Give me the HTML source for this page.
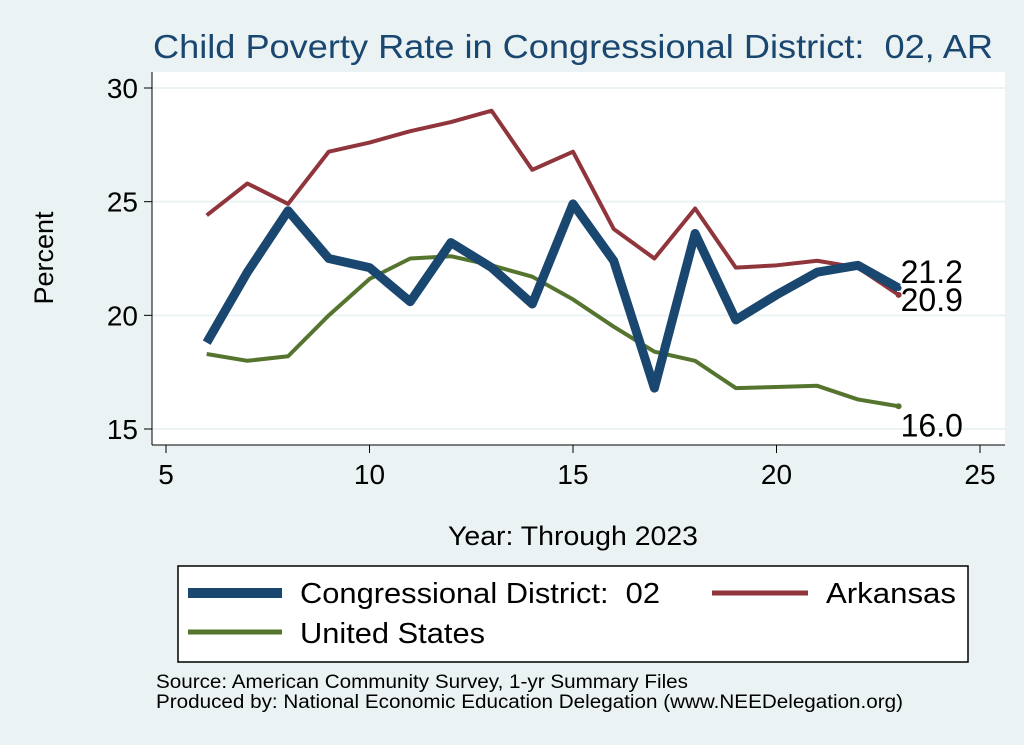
<!DOCTYPE html>
<html><head><meta charset="utf-8"><style>
body{margin:0;background:#eaf2f3;}
svg{display:block;font-family:"Liberation Sans",Arial,sans-serif;}
text{white-space:pre;}
</style></head><body>
<svg id="chart" width="1024" height="745" viewBox="0 0 1024 745" xml:space="preserve">
<rect x="0" y="0" width="1024" height="745" fill="#eaf2f3"/>
<text x="153" y="58" font-size="33" fill="#1a476f" textLength="840" lengthAdjust="spacingAndGlyphs">Child Poverty Rate in Congressional District:  02, AR</text>
<rect x="152" y="72" width="853" height="373" fill="#fff"/>
<g id="grid"></g>
<g id="axes"></g>
<g id="series"></g>
<text x="53" y="258" font-size="27" text-anchor="middle" transform="rotate(-90 53 258)">Percent</text>
<text x="448" y="545" font-size="27" textLength="250" lengthAdjust="spacingAndGlyphs">Year: Through 2023</text>
<g>
<rect x="178" y="566" width="790" height="96" fill="#fff" stroke="#000" stroke-width="1.5"/>
<line x1="188" y1="593" x2="282" y2="593" stroke="#1a476f" stroke-width="10"/>
<text x="300" y="603" font-size="29" textLength="360" lengthAdjust="spacingAndGlyphs">Congressional District:  02</text>
<line x1="712" y1="593" x2="808" y2="593" stroke="#90353b" stroke-width="5"/>
<text x="826" y="603" font-size="29" textLength="130" lengthAdjust="spacingAndGlyphs">Arkansas</text>
<line x1="188" y1="632" x2="282" y2="632" stroke="#55752f" stroke-width="5"/>
<text x="300" y="643" font-size="29" textLength="185" lengthAdjust="spacingAndGlyphs">United States</text>
</g>
<text x="156" y="688" font-size="19" textLength="532" lengthAdjust="spacingAndGlyphs">Source: American Community Survey, 1-yr Summary Files</text>
<text x="156" y="708" font-size="19" textLength="747" lengthAdjust="spacingAndGlyphs">Produced by: National Economic Education Delegation (www.NEEDelegation.org)</text>
</svg>
<script>
const years=[6,7,8,9,10,11,12,13,14,15,16,17,18,19,20,21,22,23];
const district=[18.8,21.9,24.6,22.5,22.1,20.6,23.2,22.1,20.5,24.9,22.4,16.8,23.6,19.8,20.9,21.9,22.2,21.2];
const arkansas=[24.4,25.8,24.9,27.2,27.6,28.1,28.5,29.0,26.4,27.2,23.8,22.5,24.7,22.1,22.2,22.4,22.1,20.9];
const us=[18.3,18.0,18.2,20.0,21.6,22.5,22.6,22.2,21.7,20.7,19.5,18.4,18.0,16.8,16.85,16.9,16.3,16.0];
const xTicks=[5,10,15,20,25];
const yTicks=[15,20,25,30];
const NS='http://www.w3.org/2000/svg';
function X(v){return 166+(v-5)*(980-166)/20;}
function Y(v){return 429-(v-15)*(429-88)/15;}
function mk(tag,attrs,parent){const e=document.createElementNS(NS,tag);for(const k in attrs)e.setAttribute(k,attrs[k]);document.getElementById(parent).appendChild(e);return e;}
yTicks.forEach(t=>{
 const g=mk('line',{x1:152,x2:1005,y1:Y(t),y2:Y(t),stroke:'#eaf2f3','stroke-width':2},'grid');
 
 
 const tk=mk('line',{x1:144,x2:152,y1:Y(t),y2:Y(t),stroke:'#000','stroke-width':1},'axes');
 
 
 const tx=mk('text',{x:138,y:Y(t)+10,'font-size':28,'text-anchor':'end'},'axes');tx.textContent=t;
 
 
});
xTicks.forEach(t=>{
 const tk=mk('line',{x1:X(t),x2:X(t),y1:445,y2:453,stroke:'#000','stroke-width':1},'axes');
 
 
 const tx=mk('text',{x:X(t),y:484,'font-size':28,'text-anchor':'middle'},'axes');tx.textContent=t;
 
 
});
const ax1=mk('line',{x1:152,x2:152,y1:72,y2:445,stroke:'#000','stroke-width':1},'axes');


const ax2=mk('line',{x1:152,x2:1005,y1:445,y2:445,stroke:'#000','stroke-width':1},'axes');


function line(vals,color,w,name,lblDy){
 const d=vals.map((v,i)=>(i?'L':'M')+X(years[i])+','+Y(v)).join(' ');
 const p=mk('path',{d:d,fill:'none',stroke:color,'stroke-width':w,'stroke-linejoin':'round'},'series');
 
 
 const last=vals[vals.length-1];
 const c=mk('circle',{cx:X(years[years.length-1]),cy:Y(last),r:3,fill:color},'series');
 
 
 const t=mk('text',{x:X(years[years.length-1])+2,y:Y(last)+lblDy,'font-size':32},'series');
 t.textContent=last.toFixed(1);
 
 
}
line(us,'#55752f',4,'us',30);
line(arkansas,'#90353b',4,'arkansas',16);
line(district,'#1a476f',9,'district',-5);
</script>
</body></html>
